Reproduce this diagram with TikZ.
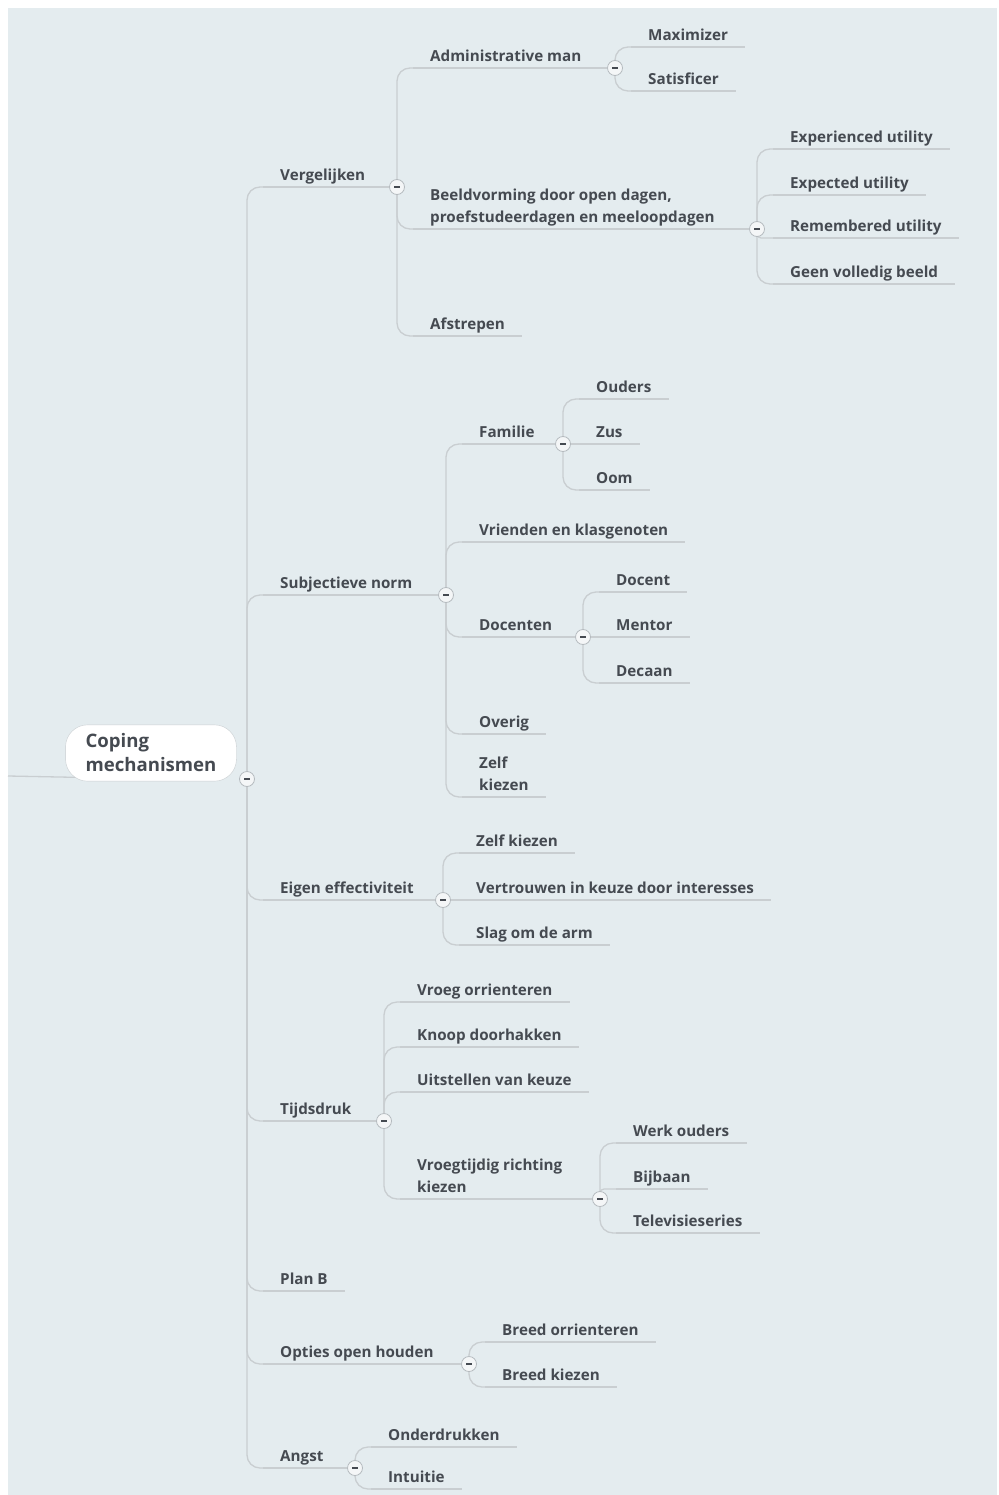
\documentclass[tikz,border=0pt]{standalone}
\usepackage{fontspec}
\setmainfont{Open Sans}
\usetikzlibrary{backgrounds}
\definecolor{bgmap}{HTML}{E4ECEF}
\definecolor{linegrey}{HTML}{C9CED1}
\definecolor{inkgrey}{HTML}{454A51}
\definecolor{btnrim}{HTML}{B5BBBF}
\definecolor{btnfill}{HTML}{F4F6F7}
\newcommand\topicfont{\fontsize{15.2}{22}\selectfont\bfseries}
\newcommand\rootfont{\fontsize{18.6}{24}\selectfont\bfseries}
\begin{document}
\begin{tikzpicture}[x=1pt,y=-1pt]\tikzset{topic/.style = {anchor=south west, align=left, font=\topicfont, text=inkgrey, inner xsep=17pt, inner ysep=6pt, text depth=0pt},
	btn/.style = {circle, draw=btnrim, fill=btnfill, line width=0.8pt, minimum size=15pt, inner sep=0pt,
		path picture={\draw[inkgrey, line width=1.5pt] ([xshift=-3pt]path picture bounding box.center) -- ([xshift=3pt]path picture bounding box.center);}},
	branch/.style = {draw=linegrey, line width=1.3pt, rounded corners=13pt},
	rootbox/.style = {draw=linegrey, fill=white, rounded corners=22pt, align=left, font=\rootfont, text=inkgrey, inner xsep=20pt, inner ysep=9pt}}

		\useasboundingbox (0,0) rectangle (998,1495);
		\begin{scope}[on background layer]
		\fill[white] (0,0) rectangle (998,1495);
		\fill[bgmap] (8,8) rectangle (997,1495);
		\end{scope}

		\coordinate (inlet) at (8,776);
		\coordinate (rootin) at (110,778);
		\draw[branch] (inlet) -- (rootin);
		\node[rootbox] (root) at (151,753) {Coping\\mechanismen};

		\node[topic] (verg) at (263,187) {Vergelijken};
		\node[topic] (subj) at (263,595) {Subjectieve norm};
		\node[topic] (eigen) at (263,900) {Eigen effectiviteit};
		\node[topic] (tijd) at (263,1121) {Tijdsdruk};
		\node[topic] (planb) at (263,1291) {Plan B};
		\node[topic] (opties) at (263,1364) {Opties open houden};
		\node[topic] (angst) at (263,1468) {Angst};

		\node[topic] (adm) at (413,68) {Administrative man};
		\node[topic] (beeld) at (413,229) {Beeldvorming door open dagen,\\proefstudeerdagen en meeloopdagen};
		\node[topic] (afstr) at (413,336) {Afstrepen};
		\node[topic] (maxim) at (631,47) {Maximizer};
		\node[topic] (satis) at (631,91) {Satisficer};
		\node[topic] (exper) at (773,149) {Experienced utility};
		\node[topic] (expect) at (773,195) {Expected utility};
		\node[topic] (remem) at (773,238) {Remembered utility};
		\node[topic] (geen) at (773,284) {Geen volledig beeld};

		\node[topic] (fam) at (462,444) {Familie};
		\node[topic] (vrien) at (462,542) {Vrienden en klasgenoten};
		\node[topic] (docs) at (462,637) {Docenten};
		\node[topic] (overig) at (462,734) {Overig};
		\node[topic] (zelf) at (462,797) {Zelf\\kiezen};
		\node[topic] (ouders) at (579,399) {Ouders};
		\node[topic] (zus) at (579,444) {Zus};
		\node[topic] (oom) at (579,490) {Oom};
		\node[topic] (docent) at (599,592) {Docent};
		\node[topic] (mentor) at (599,637) {Mentor};
		\node[topic] (decaan) at (599,683) {Decaan};

		\node[topic] (zelfk) at (459,853) {Zelf kiezen};
		\node[topic] (vertr) at (459,900) {Vertrouwen in keuze door interesses};
		\node[topic] (slag) at (459,945) {Slag om de arm};

		\node[topic] (vroeg) at (400,1002) {Vroeg orrienteren};
		\node[topic] (knoop) at (400,1047) {Knoop doorhakken};
		\node[topic] (uitst) at (400,1092) {Uitstellen van keuze};
		\node[topic] (vrtijd) at (400,1199) {Vroegtijdig richting\\kiezen};
		\node[topic] (werk) at (616,1143) {Werk ouders};
		\node[topic] (bijb) at (616,1189) {Bijbaan};
		\node[topic] (telev) at (616,1233) {Televisieseries};

		\node[topic] (breedo) at (485,1342) {Breed orrienteren};
		\node[topic] (breedk) at (485,1387) {Breed kiezen};
		\node[topic] (onder) at (371,1447) {Onderdrukken};
		\node[topic] (intu) at (371,1489) {Intuitie};

		\foreach \n in {verg,subj,eigen,tijd,planb,opties,angst,adm,beeld,afstr,maxim,satis,exper,expect,remem,geen,
			fam,vrien,docs,overig,zelf,ouders,zus,oom,docent,mentor,decaan,zelfk,vertr,slag,
			vroeg,knoop,uitst,vrtijd,werk,bijb,telev,breedo,breedk,onder,intu}
			\draw[branch] (\n.south west) -- (\n.south east);

		\node[btn] (rootB) at (247,779) {};
		\node[btn] (vergB) at (397,187) {};
		\node[btn] (admB) at (615,68) {};
		\node[btn] (beeldB) at (757,229) {};
		\node[btn] (subjB) at (446,595) {};
		\node[btn] (famB) at (563,444) {};
		\node[btn] (docsB) at (583,637) {};
		\node[btn] (eigenB) at (443,900) {};
		\node[btn] (tijdB) at (384,1121) {};
		\node[btn] (vrtijdB) at (600,1199) {};
		\node[btn] (optB) at (469,1364) {};
		\node[btn] (angstB) at (355,1468) {};

		\begin{scope}[on background layer]
		\draw[branch] (rootB) |- (verg.south west);
		\draw[branch] (rootB) |- (subj.south west);
		\draw[branch] (rootB) |- (eigen.south west);
		\draw[branch] (rootB) |- (tijd.south west);
		\draw[branch] (rootB) |- (planb.south west);
		\draw[branch] (rootB) |- (opties.south west);
		\draw[branch] (rootB) |- (angst.south west);

		\draw[branch] (verg.south east) -- (vergB);
		\draw[branch] (vergB) |- (adm.south west);
		\draw[branch] (vergB) |- (beeld.south west);
		\draw[branch] (vergB) |- (afstr.south west);
		\draw[branch] (adm.south east) -- (admB);
		\draw[branch] (admB) |- (maxim.south west);
		\draw[branch] (admB) |- (satis.south west);
		\draw[branch] (beeld.south east) -- (beeldB);
		\draw[branch] (beeldB) |- (exper.south west);
		\draw[branch] (beeldB) |- (expect.south west);
		\draw[branch, rounded corners=4pt] (beeldB) |- (remem.south west);
		\draw[branch] (beeldB) |- (geen.south west);

		\draw[branch] (subj.south east) -- (subjB);
		\draw[branch] (subjB) |- (fam.south west);
		\draw[branch] (subjB) |- (vrien.south west);
		\draw[branch] (subjB) |- (docs.south west);
		\draw[branch] (subjB) |- (overig.south west);
		\draw[branch] (subjB) |- (zelf.south west);
		\draw[branch] (fam.south east) -- (famB);
		\draw[branch] (famB) |- (ouders.south west);
		\draw[branch] (famB) -- (zus.south west);
		\draw[branch] (famB) |- (oom.south west);
		\draw[branch] (docs.south east) -- (docsB);
		\draw[branch] (docsB) |- (docent.south west);
		\draw[branch] (docsB) -- (mentor.south west);
		\draw[branch] (docsB) |- (decaan.south west);

		\draw[branch] (eigen.south east) -- (eigenB);
		\draw[branch] (eigenB) |- (zelfk.south west);
		\draw[branch] (eigenB) -- (vertr.south west);
		\draw[branch] (eigenB) |- (slag.south west);

		\draw[branch] (tijd.south east) -- (tijdB);
		\draw[branch] (tijdB) |- (vroeg.south west);
		\draw[branch] (tijdB) |- (knoop.south west);
		\draw[branch] (tijdB) |- (uitst.south west);
		\draw[branch] (tijdB) |- (vrtijd.south west);
		\draw[branch] (vrtijd.south east) -- (vrtijdB);
		\draw[branch] (vrtijdB) |- (werk.south west);
		\draw[branch, rounded corners=4pt] (vrtijdB) |- (bijb.south west);
		\draw[branch] (vrtijdB) |- (telev.south west);

		\draw[branch] (opties.south east) -- (optB);
		\draw[branch] (optB) |- (breedo.south west);
		\draw[branch] (optB) |- (breedk.south west);
		\draw[branch] (angst.south east) -- (angstB);
		\draw[branch] (angstB) |- (onder.south west);
		\draw[branch] (angstB) |- (intu.south west);
		\end{scope}
	\end{tikzpicture}
\end{document}
